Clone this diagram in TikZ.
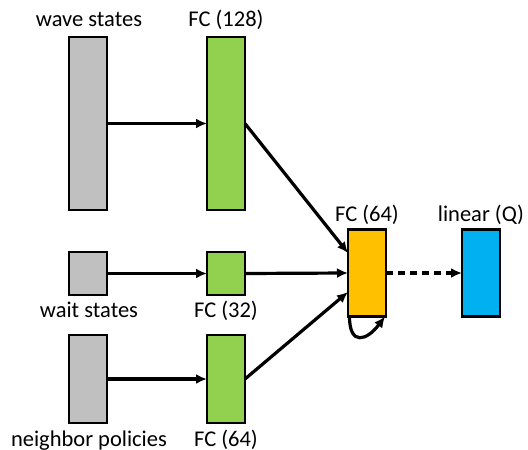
\documentclass[tikz,border=0pt]{standalone}
\usepackage{fontspec}
\setmainfont{Carlito}
\usetikzlibrary{arrows.meta,calc}
\definecolor{boxgray}{HTML}{C0C0C0}
\definecolor{boxgreen}{HTML}{92D050}
\definecolor{boxorange}{HTML}{FFC000}
\definecolor{boxblue}{HTML}{00B0F0}
\begin{document}
\begin{tikzpicture}[x=1pt,y=-1pt,
  layer/.style={draw=black,line width=2.8pt,minimum width=38pt,inner sep=0pt,outer sep=0pt},
  lbl/.style={anchor=base,inner sep=0pt,font=\fontsize{22.5}{27}\selectfont},
  arr/.style={line width=3.2pt,-{Latex[length=11pt,width=10pt]}}]
\useasboundingbox (0,0) rectangle (528,450);
% boxes
\node[layer,fill=boxgray,minimum height=173pt] (ws) at (88,123.5) {};
\node[layer,fill=boxgreen,minimum height=173pt] (fc128) at (226,123.5) {};
\node[layer,fill=boxgray,minimum height=43pt] (wt) at (88,273.5) {};
\node[layer,fill=boxgreen,minimum height=43pt] (fc32) at (226,273.5) {};
\node[layer,fill=boxgray,minimum height=88pt] (np) at (88,379) {};
\node[layer,fill=boxgreen,minimum height=88pt] (fc64) at (226,379) {};
\node[layer,fill=boxorange,minimum height=87pt] (fco) at (367,273) {};
\node[layer,fill=boxblue,minimum height=87pt] (lin) at (481,273) {};
% labels
\node[lbl] (lws) at (89,26) {wave states};
\node[lbl] (lfc128) at (226,26) {FC (128)};
\node[lbl] (lwt) at (89,317) {wait states};
\node[lbl] (lfc32) at (226,317) {FC (32)};
\node[lbl] (lnp) at (89,446) {neighbor policies};
\node[lbl] (lfc64) at (226,446) {FC (64)};
\node[lbl] (lfco) at (367,221) {FC (64)};
\node[lbl] (llin) at (481,221) {linear (Q)};
% connectors
\draw[arr] (ws.east) -- (fc128.west);
\draw[arr] (wt.east) -- (fc32.west);
\draw[arr] (np.east) -- (fc64.west);
\draw[arr] (fc128.east) -- ($(fco.west)+(0,-20)$);
\draw[arr] (fc32.east) -- (fco.west);
\draw[arr] (fc64.east) -- ($(fco.west)+(0,19)$);
\draw[arr,dash pattern=on 7pt off 5pt] (fco.east) -- (lin.west);
\draw[arr] ($(fco.south west)+(1.5,0)$) .. controls +(0,30) and +(-18,24) .. ($(fco.south east)+(-1,0)$);
\end{tikzpicture}
\end{document}
